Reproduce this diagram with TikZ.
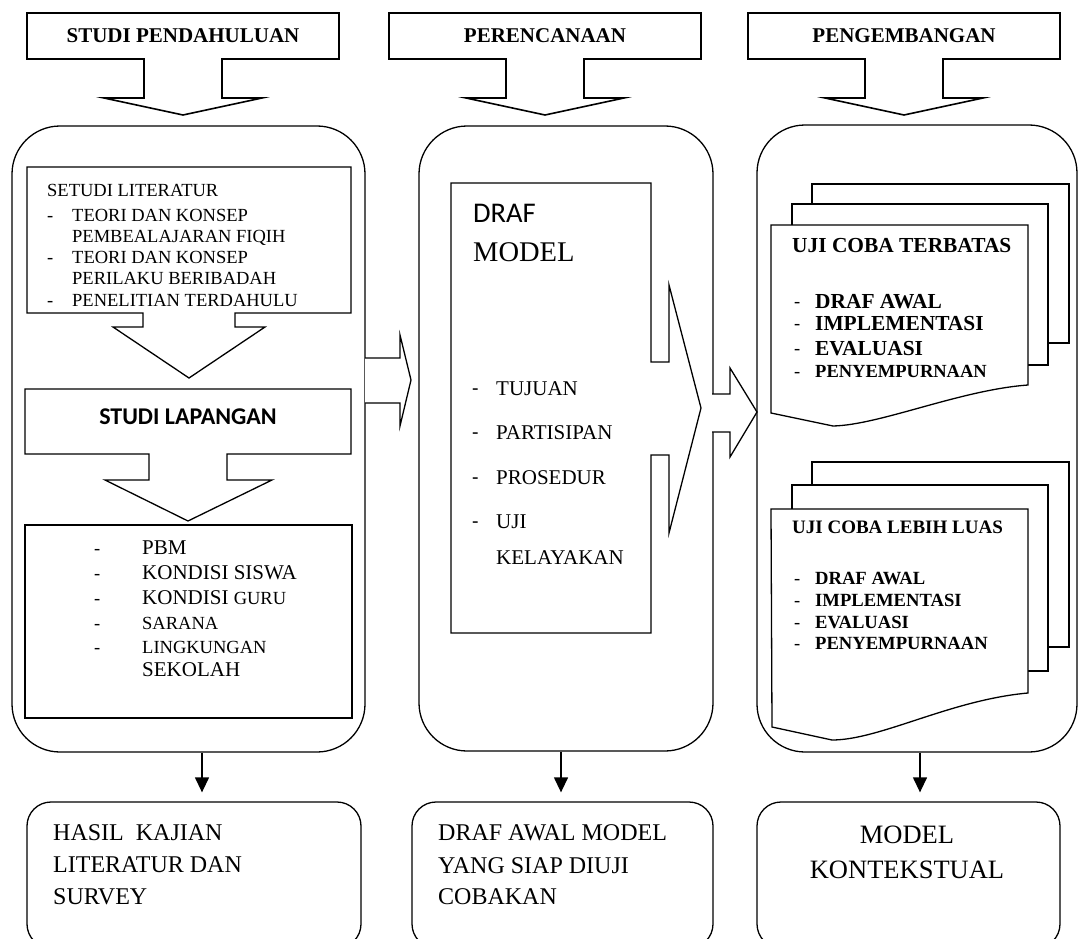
\documentclass[tikz,border=0pt]{standalone}
\usepackage{fontspec}
\setmainfont{Liberation Serif}
\newfontfamily\calib{Carlito}
\usetikzlibrary{arrows.meta}
\newcommand{\fsz}[1]{\fontsize{#1}{#1}\selectfont}

\begin{document}
\begin{tikzpicture}[x=1pt,y=-1pt,line join=miter,
  shp/.style={draw,line width=1.3pt,fill=white},
  bigbox/.style={draw,line width=1.3pt,rounded corners=48pt,inner sep=0pt},
  resbox/.style={draw,line width=1.3pt,rounded corners=24pt,inner sep=0pt,minimum height=146pt},
  txt/.style={anchor=west,inner sep=0pt,font=\fsz{#1},text height=#1*0.66pt,text depth=0pt},
  btxt/.style={txt=#1,font=\bfseries\fsz{#1}},
  downarr/.style={line width=1.3pt,-{Triangle[width=14pt,length=15pt]}}]
\useasboundingbox (0,0) rectangle (1079,939);
% three columns
\node[bigbox,minimum width=353pt,minimum height=626pt] (col1) at (188.5,439) {};
\node[bigbox,minimum width=294pt,minimum height=625pt] (col2) at (566,438.5) {};
\node[bigbox,minimum width=320pt,minimum height=627pt] (col3) at (917,438.5) {};
% headers
\foreach \cx/\t [count=\i] in {183/STUDI PENDAHULUAN,545/PERENCANAAN,904/PENGEMBANGAN} {
  \draw[shp,line width=1.6pt] (\cx-156,13) -| (\cx+156,59) -- (\cx+39,59) -- (\cx+39,98) -- (\cx+79,98)
    -- (\cx,115) -- (\cx-79,98) -- (\cx-39,98) -- (\cx-39,59) -- (\cx-156,59) -- cycle;
  \node[font=\bfseries\fsz{21},inner sep=0pt] (h\i) at (\cx,36) {\t};
}
% column 1
\draw[shp] (27,167) -| (351,313) -- (235,313) -- (235,327) -- (265,327) -- (189,378)
  -- (113,327) -- (143,327) -- (143,313) -- (27,313) -- cycle;
\draw[shp] (25,389) -| (351,454) -- (227,454) -- (227,480) -- (272,480) -- (188,521)
  -- (105,480) -- (149,480) -- (149,454) -- (25,454) -- cycle;
\draw[shp,line width=2.4pt] (25,525) rectangle (352,718);
\node[txt=18.5] (lit0) at (47,190) {SETUDI LITERATUR};
\foreach \y/\t [count=\i] in {215/TEORI DAN KONSEP,236/PEMBEALAJARAN FIQIH,257/TEORI DAN KONSEP,278/PERILAKU BERIBADAH,300/PENELITIAN TERDAHULU}
  \node[txt=18.5] (lit\i) at (72,\y) {\t};
\foreach \y [count=\i] in {215,257,300}
  \node[txt=18.5] (litd\i) at (47,\y) {-};
\node[font=\calib\bfseries\fsz{24}] (lap) at (188,417) {STUDI LAPANGAN};
\foreach \y/\t/\s [count=\i] in {548/PBM/21,573/KONDISI SISWA/21,598/{KONDISI {\fsz{18.5}GURU}}/21,623/SARANA/18.5,647/LINGKUNGAN/18.5,670/SEKOLAH/21}
  \node[txt=\s] (lap\i) at (142,\y) {\t};
\foreach \y [count=\i] in {548,573,598,623,647}
  \node[txt=18.5] (lapd\i) at (94,\y) {-};
% column 2
\draw[shp] (365,358) -- (400,358) -- (400,335) -- (411,380) -- (400,426) -- (400,403) -- (365,403);
\draw[shp] (451,183) -- (651,183) -- (651,362) -- (669,362) -- (669,285) -- (701,408)
  -- (669,533) -- (669,455) -- (651,455) -- (651,633) -- (451,633) -- cycle;
\node[txt=28.5,font=\calib\fsz{28.5}] (draf) at (473,213) {DRAF};
\node[txt=28.5] (model) at (473,252) {MODEL};
\foreach \y/\t [count=\i] in {389/TUJUAN,433/PARTISIPAN,478/PROSEDUR,522/UJI,558/KELAYAKAN}
  \node[txt=21] (tuj\i) at (496,\y) {\t};
\foreach \y [count=\i] in {389,433,478,522}
  \node[txt=21,font=\calib\fsz{21}] (tujd\i) at (472,\y) {-};
% column 3
\draw[shp] (712,394) -- (730,394) -- (730,368) -- (757,412) -- (730,457) -- (730,432) -- (712,432);
\draw[shp] (812,204) -- (812,184) -- (1069,184) -- (1069,343) -- (1048,343);
\draw[shp] (792,225) -- (792,204) -- (1048,204) -- (1048,365) -- (1028,365);
\draw[shp] (771,225) -- (1028,225) -- (1028,385) .. controls (960,390) and (880,425) .. (833,426)
  -- (771,413) -- cycle;
\draw[shp] (812,485) -- (812,462) -- (1069,462) -- (1069,647) -- (1048,647);
\draw[shp] (792,509) -- (792,485) -- (1048,485) -- (1048,671) -- (1028,671);
\draw[shp] (771,509) -- (1028,509) -- (1028,693) .. controls (950,700) and (880,740) .. (832,740)
  -- (772,727) -- cycle;
\node[btxt=21.4] (ujit) at (792,245) {UJI COBA TERBATAS};
\foreach \y/\t/\s [count=\i] in {301/DRAF AWAL/21.4,323/IMPLEMENTASI/21.4,348/EVALUASI/21.4,371/PENYEMPURNAAN/18.5}
  \node[btxt=\s] (ujit\i) at (815,\y) {\t};
\node[btxt=19] (ujil) at (792,527) {UJI COBA LEBIH LUAS};
\foreach \y/\t [count=\i] in {578/DRAF AWAL,600/IMPLEMENTASI,622/EVALUASI,643/PENYEMPURNAAN}
  \node[btxt=18.6] (ujil\i) at (815,\y) {\t};
\foreach \y [count=\i] in {301,323,348,371,578,600,622,643}
  \node[txt=18.5] (ujid\i) at (794,\y) {-};
% results
\node[resbox,minimum width=334pt] (res1) at (194,875) {};
\node[resbox,minimum width=301pt] (res2) at (562.5,875) {};
\node[resbox,minimum width=303pt] (res3) at (908.5,875) {};
\node[txt=24] (hasil1) at (53,833) {HASIL\ \ KAJIAN};
\node[txt=24] (hasil2) at (53,865) {LITERATUR DAN};
\node[txt=24] (hasil3) at (53,897) {SURVEY};
\node[txt=24] (awal1) at (438,833) {DRAF AWAL MODEL};
\node[txt=24] (awal2) at (438,866) {YANG SIAP DIUJI};
\node[txt=24] (awal3) at (438,897) {COBAKAN};
\node[txt=26.5,anchor=center] (kon1) at (907,835) {MODEL};
\node[txt=26.5,anchor=center] (kon2) at (907,870) {KONTEKSTUAL};
\draw[downarr] ([xshift=13.5pt]col1.south) -- ([xshift=8pt,yshift=9pt]res1.north);
\draw[downarr] ([xshift=-5pt]col2.south) -- ([xshift=-1.5pt,yshift=9pt]res2.north);
\draw[downarr] ([xshift=3pt]col3.south) -- ([xshift=11.5pt,yshift=9pt]res3.north);
\end{tikzpicture}
\end{document}
